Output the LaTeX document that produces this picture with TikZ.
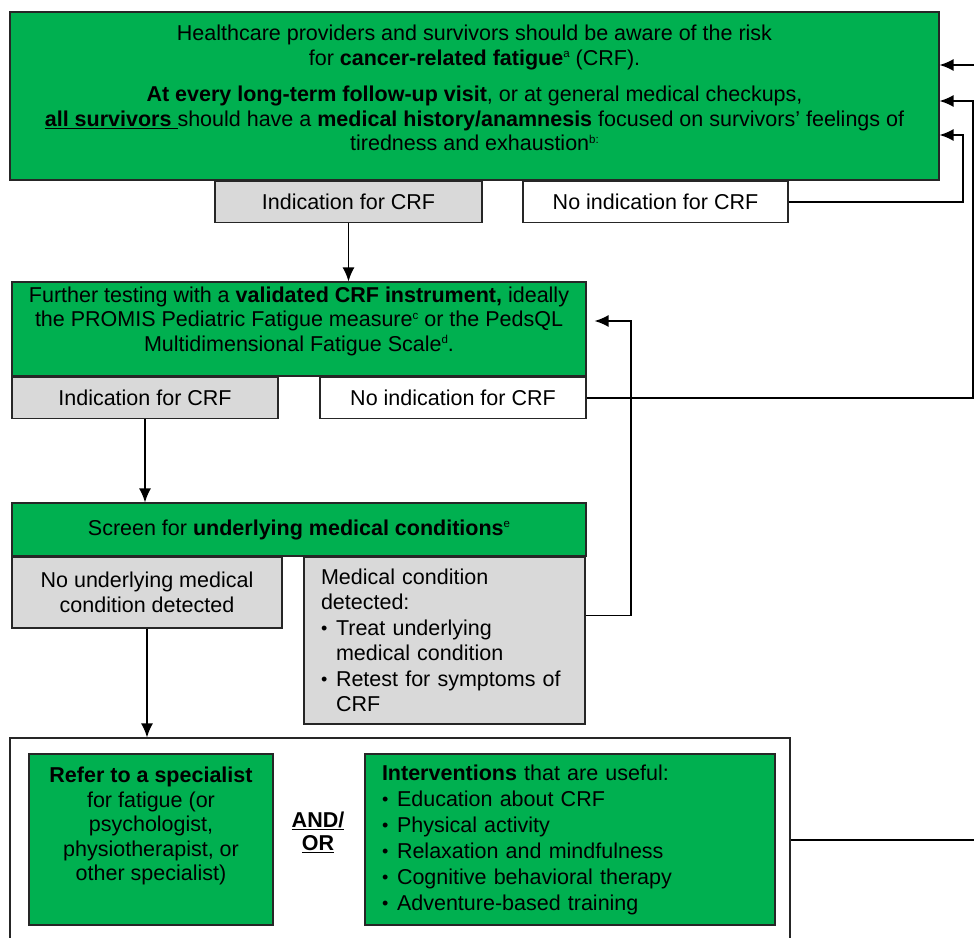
\documentclass[tikz,border=0pt]{standalone}
\usepackage{fontspec}
\setmainfont{Liberation Sans}
\usetikzlibrary{arrows.meta}
\definecolor{crfgreen}{HTML}{00B050}
\definecolor{crfgray}{HTML}{D9D9D9}
\newcommand{\fn}[1]{\raisebox{0.65ex}{\fontsize{11.5}{11.5}\selectfont #1}}
\newcommand{\bul}{\makebox[15pt][l]{\raisebox{0.8pt}{\fontsize{18}{18}\selectfont\textbullet}}}
\tikzset{
    box/.style={draw=black!85, line width=1.2pt, inner sep=0pt, align=center},
    greenbox/.style={box, fill=crfgreen},
    graybox/.style={box, fill=crfgray},
    whitebox/.style={box, fill=white},
    txt/.style={align=center, inner sep=0pt},
    link/.style={line width=1.5pt},
    arr/.style={link, -{Latex[length=14pt,width=12pt]}},
}

\begin{document}
\begin{tikzpicture}[x=1pt, y=-1pt, font=\fontsize{21.5}{24.5}\selectfont]
    \useasboundingbox (0,0) rectangle (974,937);
    \clip (0,0) rectangle (974,937);
    \node[greenbox, minimum width=929pt, minimum height=168pt] (risk) at (474.5,96) {};
    \node[txt] (risktxt) at (474.5,88) {Healthcare providers and survivors should be aware of the risk\\
        for \textbf{cancer-related fatigue}\fn{a} (CRF).\\[12pt]
        \textbf{At every long-term follow-up visit}, or at general medical checkups,\\
        \underline{\textbf{all survivors}\ }should have a \textbf{medical history/anamnesis} focused on survivors' feelings of\\
        tiredness and exhaustion\fn{b:}};
    \node[graybox, minimum width=267pt, minimum height=41pt] (ind1) at (348.5,202) {Indication for CRF};
    \node[whitebox, minimum width=265pt, minimum height=41pt] (noind1) at (655.5,202) {No indication for CRF};
    \node[greenbox, minimum width=574pt, minimum height=94pt] (testing) at (299,329) {};
    \node[txt] (testingtxt) at (299,321) {Further testing with a \textbf{validated CRF instrument,} ideally\\
        the PROMIS Pediatric Fatigue measure\fn{c} or the PedsQL\\
        Multidimensional Fatigue Scale\fn{d}.};
    \node[graybox, minimum width=266pt, minimum height=41pt] (ind2) at (145,398) {Indication for CRF};
    \node[whitebox, minimum width=266pt, minimum height=41pt] (noind2) at (453,398) {No indication for CRF};
    \node[greenbox, minimum width=574pt, minimum height=53pt] (screen) at (299,529.5) {Screen for \textbf{underlying medical conditions}\fn{e}};
    \node[graybox, minimum width=270pt, minimum height=71pt] (nocond) at (147,592.5) {No underlying medical\\ condition detected};
    \node[graybox, minimum width=281pt, minimum height=167pt, text width=247pt, align=left,
        font=\fontsize{21.5}{25.5}\selectfont] (cond) at (444.5,640.5) {Medical condition\\
        detected:\\
        \bul Treat underlying\\
        \hspace*{15pt}medical condition\\
        \bul Retest for symptoms of\\
        \hspace*{15pt}CRF};
    \node[whitebox, minimum width=780pt, minimum height=222pt] (plan) at (400,849) {};
    \node[greenbox, minimum width=244pt, minimum height=171pt] (refer) at (151,839.5) {};
    \node[txt] (refertxt) at (151,826) {\textbf{Refer to a specialist}\\ for fatigue (or\\ psychologist,\\ physiotherapist, or\\ other specialist)};
    \node[txt, font=\fontsize{21.5}{23}\selectfont\bfseries] (andor) at (318,832) {\underline{AND/}\\ \underline{OR}};
    \node[greenbox, minimum width=410pt, minimum height=171pt, text width=376pt, align=left,
        font=\fontsize{21.5}{26}\selectfont] (interv) at (570,839.5) {\textbf{Interventions} that are useful:\\
        \bul Education about CRF\\
        \bul Physical activity\\
        \bul Relaxation and mindfulness\\
        \bul Cognitive behavioral therapy\\
        \bul Adventure-based training};
    \coordinate (e1) at (990,65);
    \coordinate (e2) at (990,840);
    \coordinate (r1) at (963,135);
    \coordinate (r2) at (973,101);
    \coordinate (r3) at (631,321);
    \draw[arr] (e1) -- (e1 -| risk.east);
    \draw[arr] (noind1.east) -| (r1) -- (r1 -| risk.east);
    \draw[arr] (noind2.east) -| (r2) -- (r2 -| risk.east);
    \draw[arr] (ind1.south) -- (ind1.south |- testing.north);
    \draw[arr] (ind2.south) -- (ind2.south |- screen.north);
    \draw[arr, shorten >=8pt] ([yshift=25pt]cond.east) -| (r3) -- (r3 -| testing.east);
    \draw[arr] (nocond.south) -- (nocond.south |- plan.north);
    \draw[link] (e2 -| plan.east) -- (e2);
\end{tikzpicture}
\end{document}
